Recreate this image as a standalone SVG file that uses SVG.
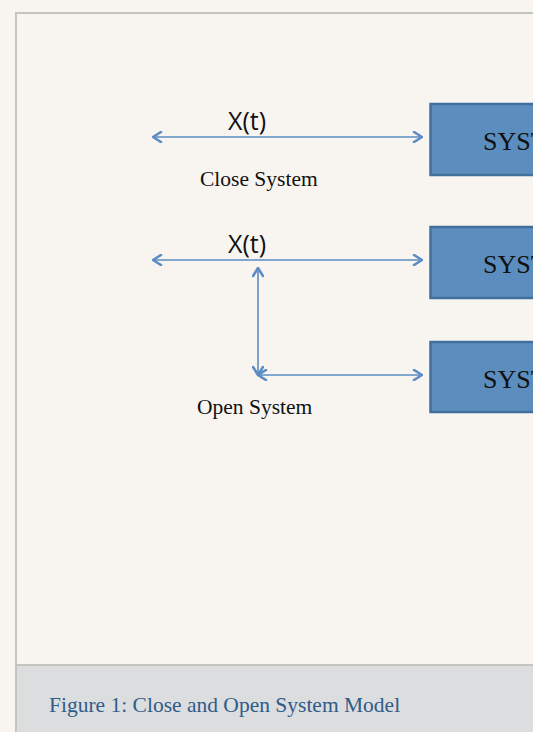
<svg xmlns="http://www.w3.org/2000/svg" width="533" height="732" viewBox="0 0 533 732">
  <style>
    .box { fill: #5b8dbf; stroke: #41709c; stroke-width: 2.5; }
    .boxtxt { font-family: "Liberation Serif", "Times New Roman", serif; font-size: 26px; fill: #111; }
    .lbl { font-family: "Liberation Serif", "Times New Roman", serif; font-size: 21.5px; fill: #111; }
    .sig { font-family: "Open Sans", "Liberation Sans", sans-serif; font-size: 25px; fill: #111; }
    .wire { stroke: #5b8dc4; stroke-width: 1.6; fill: none; }
    .cap { font-family: "Liberation Serif", "Times New Roman", serif; font-size: 21.5px; fill: #2f5c88; }
  </style>
  <defs>
    <marker id="chev" viewBox="0 0 12 12" refX="11" refY="6" markerWidth="12" markerHeight="12" markerUnits="userSpaceOnUse" orient="auto-start-reverse">
      <path d="M3,1 L11,6 L3,11" fill="none" stroke="#5b8dc4" stroke-width="2.6" stroke-linecap="round" stroke-linejoin="round"/>
    </marker>
  </defs>

  <!-- page and frame -->
  <rect x="0" y="0" width="533" height="732" fill="#f8f5f0"/>
  <rect x="16" y="13" width="530" height="740" fill="#f8f5f0" stroke="#c6c4c0" stroke-width="2"/>
  <rect x="17" y="665" width="520" height="70" fill="#dcdddf"/>
  <line x1="17" y1="665" x2="533" y2="665" stroke="#c6c4c0" stroke-width="2"/>

  <!-- connectors -->
  <g id="connectors">
    <line class="wire" x1="153" y1="137" x2="422" y2="137" marker-start="url(#chev)" marker-end="url(#chev)"/>
    <line class="wire" x1="153" y1="260" x2="422" y2="260" marker-start="url(#chev)" marker-end="url(#chev)"/>
    <line class="wire" x1="258" y1="268" x2="258" y2="375" marker-start="url(#chev)" marker-end="url(#chev)"/>
    <line class="wire" x1="258" y1="375" x2="422" y2="375" marker-start="url(#chev)" marker-end="url(#chev)"/>
  </g>

  <!-- signal and system labels -->
  <text class="sig" x="228" y="130">X(t)</text>
  <text class="lbl" x="200" y="186">Close System</text>
  <text class="sig" x="228" y="253">X(t)</text>
  <text class="lbl" x="197" y="414">Open System</text>

  <!-- system blocks -->
  <g id="system-close">
    <rect class="box" x="430.5" y="104" width="130" height="71"/>
    <text class="boxtxt" x="483" y="150">SYST</text>
  </g>
  <g id="system-open-a">
    <rect class="box" x="430.5" y="227" width="130" height="71"/>
    <text class="boxtxt" x="483" y="273">SYST</text>
  </g>
  <g id="system-open-b">
    <rect class="box" x="430.5" y="342" width="130" height="70"/>
    <text class="boxtxt" x="483" y="388">SYST</text>
  </g>

  <!-- caption -->
  <text class="cap" x="49" y="712">Figure 1: Close and Open System Model</text>
</svg>
